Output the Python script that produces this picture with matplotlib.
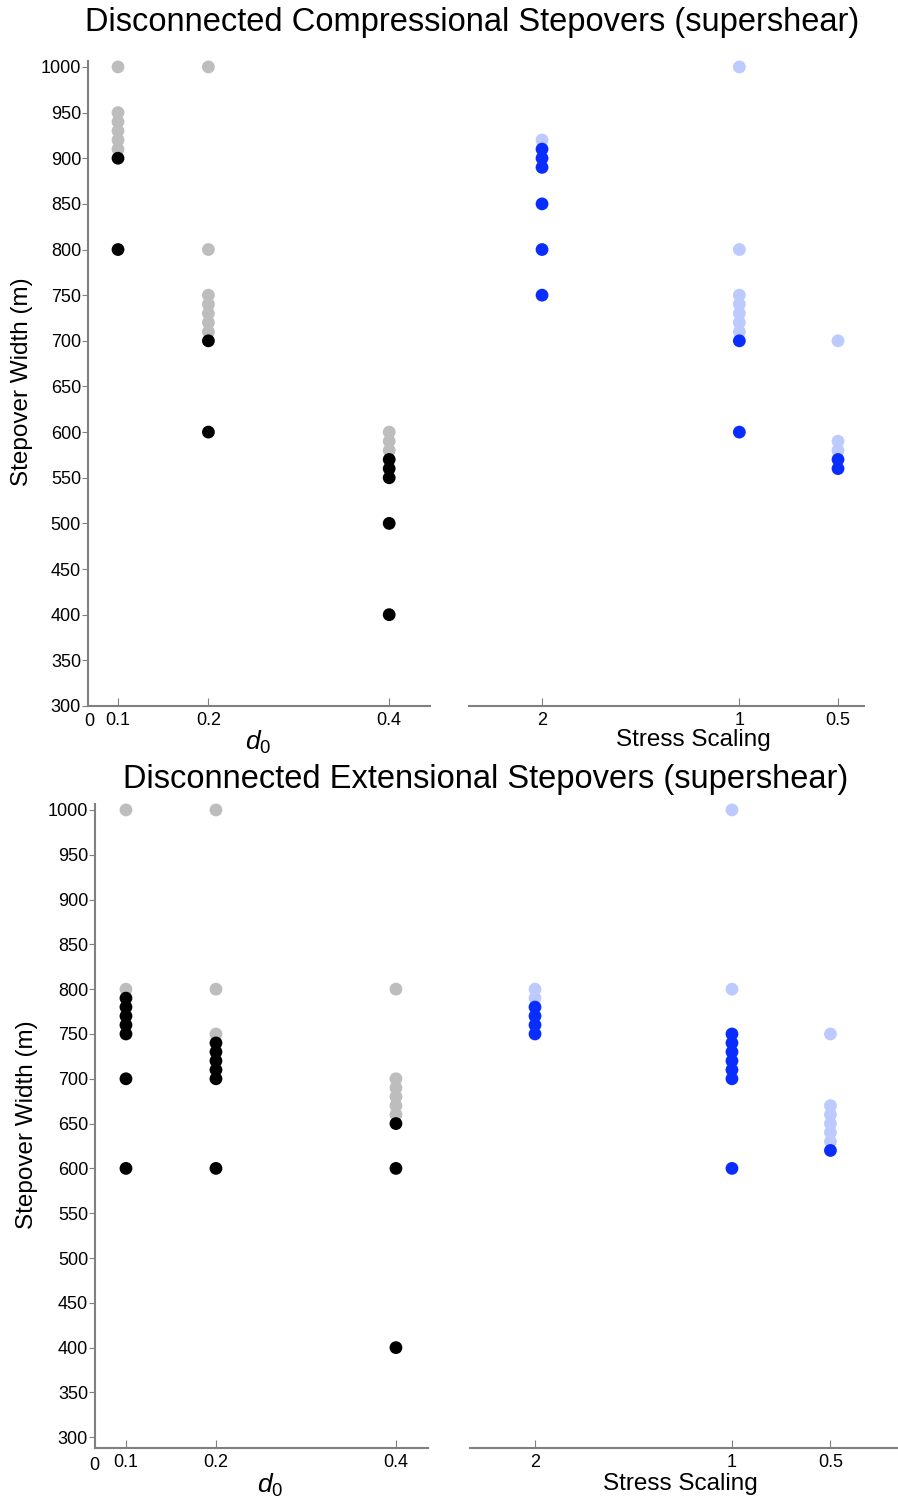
import matplotlib
matplotlib.use("Agg")
import matplotlib.pyplot as plt

plt.rcParams['font.family'] = ['Liberation Sans', 'DejaVu Sans']
plt.rcParams['mathtext.fontset'] = 'custom'
plt.rcParams['mathtext.it'] = 'Liberation Sans:italic'
plt.rcParams['mathtext.rm'] = 'Liberation Sans'

# stepover widths (m) for each d0 / stress-scaling value
comp_d0_light = {0.1: [1000, 950, 940, 930, 920, 910],
                 0.2: [1000, 800, 750, 740, 730, 720, 710],
                 0.4: [600, 590, 580]}
comp_d0_dark = {0.1: [900, 800],
                0.2: [700, 600],
                0.4: [570, 560, 550, 500, 400]}
comp_ss_light = {2: [920],
                 1: [1000, 800, 750, 740, 730, 720, 710],
                 0.5: [700, 590, 580]}
comp_ss_dark = {2: [910, 900, 890, 850, 800, 750],
                1: [700, 600],
                0.5: [570, 560]}

ext_d0_light = {0.1: [1000, 800],
                0.2: [1000, 800, 750],
                0.4: [800, 700, 690, 680, 670, 660]}
ext_d0_dark = {0.1: [790, 780, 770, 760, 750, 700, 600],
               0.2: [740, 730, 720, 710, 700, 600],
               0.4: [650, 600, 400]}
ext_ss_light = {2: [800, 790],
                1: [1000, 800],
                0.5: [750, 670, 660, 650, 640, 630]}
ext_ss_dark = {2: [780, 770, 760, 750],
               1: [750, 740, 730, 720, 710, 700, 600],
               0.5: [620]}

d0_ticks = [0.1, 0.2, 0.4]
ss_ticks = [2, 1, 0.5]
y_ticks = list(range(300, 1001, 50))

GRAY = '#bdbdbd'
BLACK = '#000000'
LBLUE = '#bccaff'
BLUE = '#0a2dff'
SPINE = '#808080'
MS = 85
TICK_FS = 13


def scatter_groups(ax, groups, color):
    for x, ys in groups.items():
        ax.scatter([x] * len(ys), ys, s=MS, color=color, edgecolors='none',
                   zorder=3, clip_on=False)


def style_axis(ax, left_axis):
    for side in ['top', 'right']:
        ax.spines[side].set_visible(False)
    ax.spines['bottom'].set_color(SPINE)
    ax.spines['bottom'].set_linewidth(1.5)
    ax.tick_params(axis='x', direction='in', length=6, color=SPINE,
                   labelsize=TICK_FS, pad=4)
    if left_axis:
        ax.spines['left'].set_color(SPINE)
        ax.spines['left'].set_linewidth(1.5)
        ax.set_yticks(y_ticks)
        ax.tick_params(axis='y', direction='out', length=4, color=SPINE,
                       labelsize=TICK_FS, pad=1)
    else:
        ax.spines['left'].set_visible(False)
        ax.set_yticks([])


fig = plt.figure(figsize=(8.98, 15.03), dpi=100)

panels = [
    dict(d0=[0.098, 0.5303, 0.381, 0.4294], ss=[0.5223, 0.5303, 0.4399, 0.4294],
         d0_xlim=(0.0668, 0.4453), ss_xlim=(2.37, 0.368), ylim=(300, 1007),
         light=comp_d0_light, dark=comp_d0_dark,
         sslight=comp_ss_light, ssdark=comp_ss_dark,
         title='Disconnected Compressional Stepovers (supershear)',
         title_xy=(472, 23), ylab_xy=(22, 382),
         d0lab_xy=(258, 742), sslab_xy=(693, 740), zero_xy=(89, 721)),
    dict(d0=[0.1058, 0.0366, 0.3708, 0.4287], ss=[0.5234, 0.0366, 0.4766, 0.4287],
         d0_xlim=(0.0656, 0.4356), ss_xlim=(2.33, 0.157), ylim=(288, 1007),
         light=ext_d0_light, dark=ext_d0_dark,
         sslight=ext_ss_light, ssdark=ext_ss_dark,
         title='Disconnected Extensional Stepovers (supershear)',
         title_xy=(486, 779), ylab_xy=(27, 1125),
         d0lab_xy=(270, 1485), sslab_xy=(680, 1484), zero_xy=(94, 1465)),
]

W, H = 898, 1503
for p in panels:
    ax1 = fig.add_axes(p['d0'])
    scatter_groups(ax1, p['light'], GRAY)
    scatter_groups(ax1, p['dark'], BLACK)
    ax1.set_xlim(*p['d0_xlim'])
    ax1.set_ylim(*p['ylim'])
    ax1.set_xticks(d0_ticks)
    ax1.set_xticklabels(['0.1', '0.2', '0.4'])
    style_axis(ax1, True)

    ax2 = fig.add_axes(p['ss'])
    scatter_groups(ax2, p['sslight'], LBLUE)
    scatter_groups(ax2, p['ssdark'], BLUE)
    ax2.set_xlim(*p['ss_xlim'])
    ax2.set_ylim(*p['ylim'])
    ax2.set_xticks(ss_ticks)
    ax2.set_xticklabels(['2', '1', '0.5'])
    style_axis(ax2, False)

    tx, ty = p['title_xy']
    fig.text(tx / W, 1 - ty / H, p['title'], ha='center', va='center', fontsize=23.5)
    lx, ly = p['ylab_xy']
    fig.text(lx / W, 1 - ly / H, 'Stepover Width (m)', ha='center', va='center',
             rotation=90, fontsize=17.5)
    dx, dy = p['d0lab_xy']
    fig.text(dx / W, 1 - dy / H, r'$d_0$', ha='center', va='center', fontsize=19)
    sx, sy = p['sslab_xy']
    fig.text(sx / W, 1 - sy / H, 'Stress Scaling', ha='center', va='center', fontsize=17.5)
    zx, zy = p['zero_xy']
    fig.text(zx / W, 1 - zy / H, '0', ha='center', va='center', fontsize=TICK_FS)

fig.savefig('out.png', dpi=100)
